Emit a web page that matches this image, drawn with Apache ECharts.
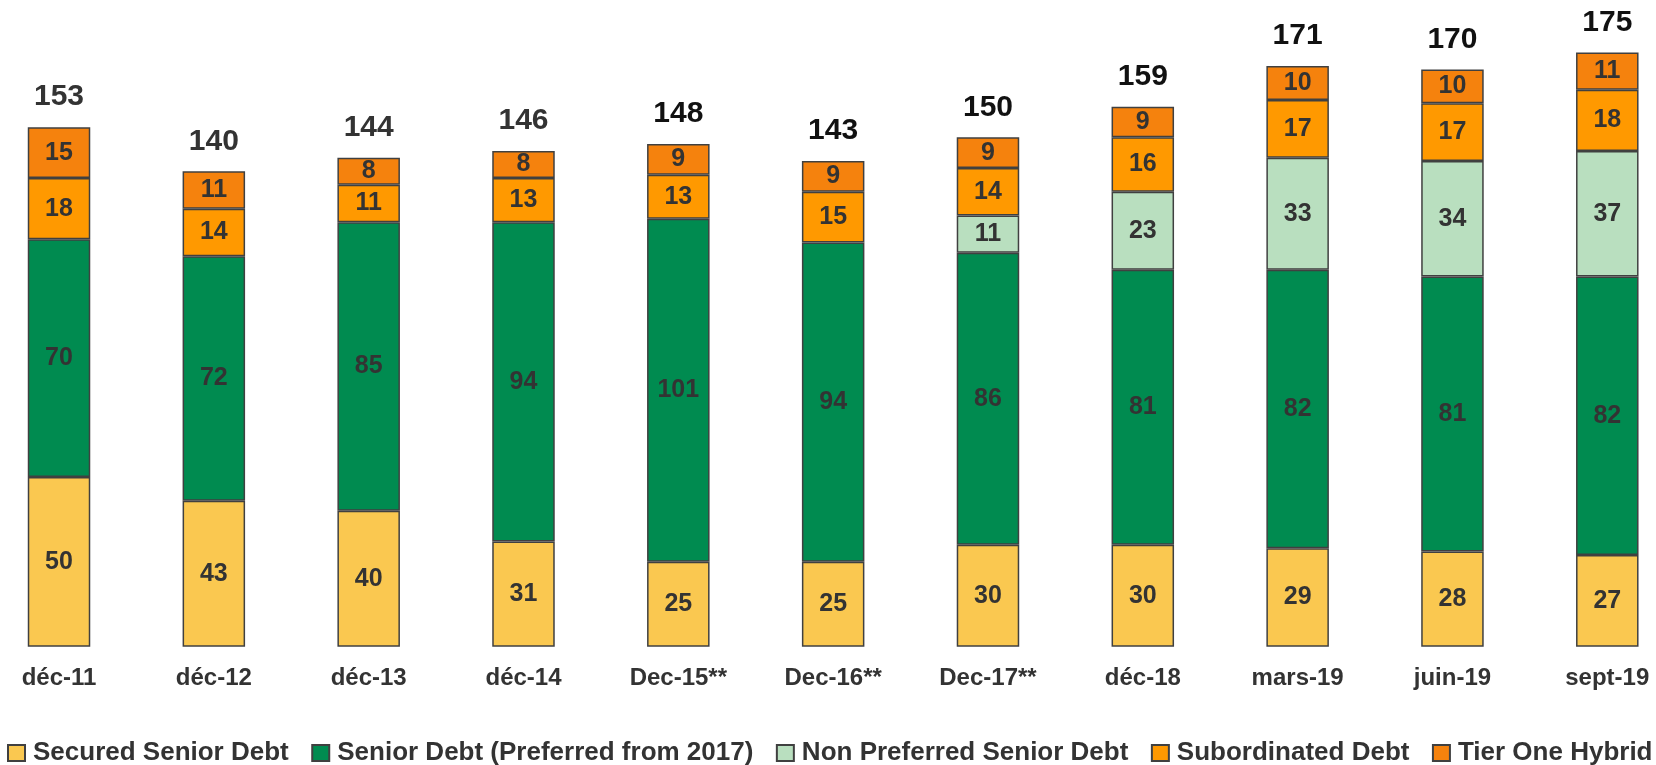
<!DOCTYPE html>
<html>
<head>
<meta charset="utf-8">
<script src="https://cdn.jsdelivr.net/npm/echarts@6/dist/echarts.min.js"></script>
<style>
html,body{margin:0;padding:0;background:#fff;}
#c{width:1656px;height:765px;}
</style>
</head>
<body>
<div id="c"></div>
<script>
const categories = ['déc-11','déc-12','déc-13','déc-14','Dec-15**','Dec-16**','Dec-17**','déc-18','mars-19','juin-19','sept-19'];
const securedSenior = [50,43,40,31,25,25,30,30,29,28,27];
const seniorPreferred = [70,72,85,94,101,94,86,81,82,81,82];
const nonPreferred = ['-','-','-','-','-','-',11,23,33,34,37];
const subordinated = [18,14,11,13,13,15,14,16,17,17,18];
const tierOne = [15,11,8,8,9,9,9,9,10,10,11];
const totals = [153,140,144,146,148,143,150,159,171,170,175];
const seriesNames = ['Secured Senior Debt','Senior Debt (Preferred from 2017)','Non Preferred Senior Debt','Subordinated Debt','Tier One Hybrid'];

const totalLabelColors = ['#333','#333','#333','#333','#111','#111','#111','#111','#111','#111','#111'];
const colors = ['#FAC850','#008B50','#B9DFBF','#FF9900','#F5820D'];
const FONT = '"Liberation Sans", Arial, sans-serif';
const BW = 62.5;

const chart = echarts.init(document.getElementById('c'), null, {renderer:'canvas'});
const stackData = [securedSenior, seniorPreferred, nonPreferred, subordinated, tierOne];
const series = stackData.map((d,i)=>({
  name: seriesNames[i],
  type: 'bar',
  stack: 'total',
  barWidth: BW,
  data: d,
  itemStyle: {color: colors[i], borderColor: '#404040', borderWidth: 1.5},
  label: {show: true, position: 'inside', color: '#333', fontFamily: FONT, fontWeight: 'bold', fontSize: 25},
  emphasis: {disabled: true}
}));
series.push({
  name: 'Total',
  type: 'bar',
  barWidth: BW,
  barGap: '-100%',
  z: 1,
  data: totals.map((v,i)=>({value: v, label: {color: totalLabelColors[i]}})),
  itemStyle: {color: 'rgba(0,0,0,0)', borderWidth: 0},
  label: {show: true, position: 'top', distance: 15, fontFamily: FONT, fontWeight: 'bold', fontSize: 30},
  emphasis: {disabled: true}
});

chart.setOption({
  animation: false,
  backgroundColor: '#fff',
  grid: {left: -18.4, right: -28.7, top: 1.5, bottom: 118.3, containLabel: false, outerBoundsMode: 'none'},
  xAxis: {
    type: 'category',
    data: categories,
    axisLine: {show: false},
    axisTick: {show: false},
    axisLabel: {color: '#333', fontFamily: FONT, fontWeight: 'bold', fontSize: 24, margin: 20}
  },
  yAxis: {type: 'value', min: 0, max: 190, show: false, splitLine: {show: false}},
  legend: {
    data: seriesNames,
    left: 7,
    top: 740,
    width: 1700,
    padding: 0,
    icon: 'rect',
    itemWidth: 17,
    itemHeight: 16,
    itemGap: 22.5,
    textStyle: {color: '#333', fontFamily: FONT, fontWeight: 'bold', fontSize: 26, padding: [0,0,0,3]}
  },
  series: series
});
</script>
</body>
</html>
